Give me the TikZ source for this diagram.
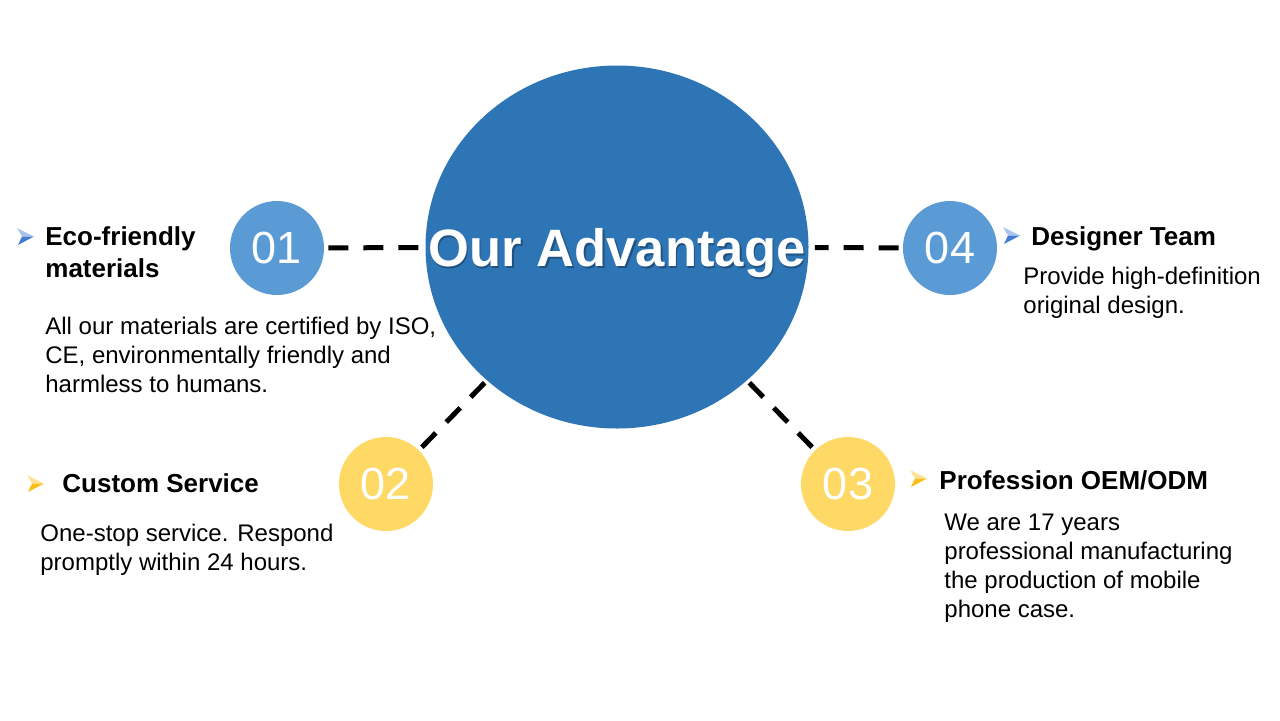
\documentclass[tikz,border=0pt]{standalone}
\usepackage{fontspec}
\setmainfont{Liberation Sans}
\usetikzlibrary{shapes.geometric, positioning}
\definecolor{corebl}{RGB}{46,117,182}
\definecolor{dotbl}{RGB}{91,155,213}
\definecolor{dotyl}{RGB}{255,217,102}
\definecolor{markbl}{RGB}{68,124,210}
\definecolor{markyl}{RGB}{250,190,20}

\tikzset{
  numdot/.style={circle, minimum size=47pt, inner sep=0pt, text=white,
    font=\fontsize{22.5}{22.5}\selectfont},
  headtxt/.style={anchor=base west, inner sep=0pt, align=left,
    font=\fontsize{13}{16}\selectfont\bfseries},
  bodytxt/.style={anchor=base west, inner sep=0pt, align=left,
    font=\fontsize{12}{14.5}\selectfont},
  dashlink/.style={draw=black, line width=2.5pt, dash pattern=on 10pt off 7.5pt},
  pics/dart/.style={code={
    \fill[#1!45!white] (0,0) -- (17,8.5) -- (5,8.5) -- cycle;
    \fill[#1] (5,8.5) -- (17,8.5) -- (1,17) -- cycle;
  }}
}

\begin{document}
\begin{tikzpicture}[x=0.5pt, y=-0.5pt]
  \useasboundingbox[fill=white] (0,0) rectangle (1280,720);

  % centre
  \node[ellipse, fill=corebl, minimum width=191.5pt, minimum height=181.5pt,
        inner sep=0pt] (core) at (617,247) {};
  \node[text=black, opacity=0.3, font=\fontsize{26.3}{26.3}\selectfont\bfseries,
        anchor=base] (coreshade) at (618.5,268) {Our Advantage};
  \node[text=white, font=\fontsize{26.3}{26.3}\selectfont\bfseries,
        anchor=base] (coretitle) at (617,266) {Our Advantage};

  % numbered dots
  \node[numdot, fill=dotbl] (d01) at (277,248) {01};
  \node[numdot, fill=dotyl] (d02) at (386,484) {02};
  \node[numdot, fill=dotyl] (d03) at (848,484) {03};
  \node[numdot, fill=dotbl] (d04) at (950,248) {04};

  % links
  \draw[dashlink, shorten <=2pt, shorten >=3pt] (d01) -- (core);
  \draw[dashlink, shorten <=2pt, shorten >=3pt] (d04) -- (core);
  \draw[dashlink, shorten <=2pt] (d02) -- (core);
  \draw[dashlink, shorten <=2pt] (d03) -- (core);

  % 01
  \pic at (17,228) {dart=markbl};
  \node[headtxt] (h01) at (45,277) {Eco-friendly\\materials};
  \node[bodytxt] (b01) at (45,392) {All our materials are certified by ISO,\\
    CE, environmentally friendly and\\harmless to humans.};

  % 04
  \pic at (1003,227) {dart=markbl};
  \node[headtxt] (h04) at (1031,245) {Designer Team};
  \node[bodytxt] (b04) at (1023,313) {Provide high-definition\\original design.};

  % 02
  \pic at (27,475) {dart=markyl};
  \node[headtxt] (h02) at (62,492) {Custom Service};
  \node[bodytxt] (b02) at (40,570) {One-stop service. Respond\\promptly within 24 hours.};

  % 03
  \pic at (910,470) {dart=markyl};
  \node[headtxt] (h03) at (939,489) {Profession OEM/ODM};
  \node[bodytxt] (b03) at (944,617) {We are 17 years\\professional manufacturing\\
    the production of mobile\\phone case.};
\end{tikzpicture}
\end{document}
